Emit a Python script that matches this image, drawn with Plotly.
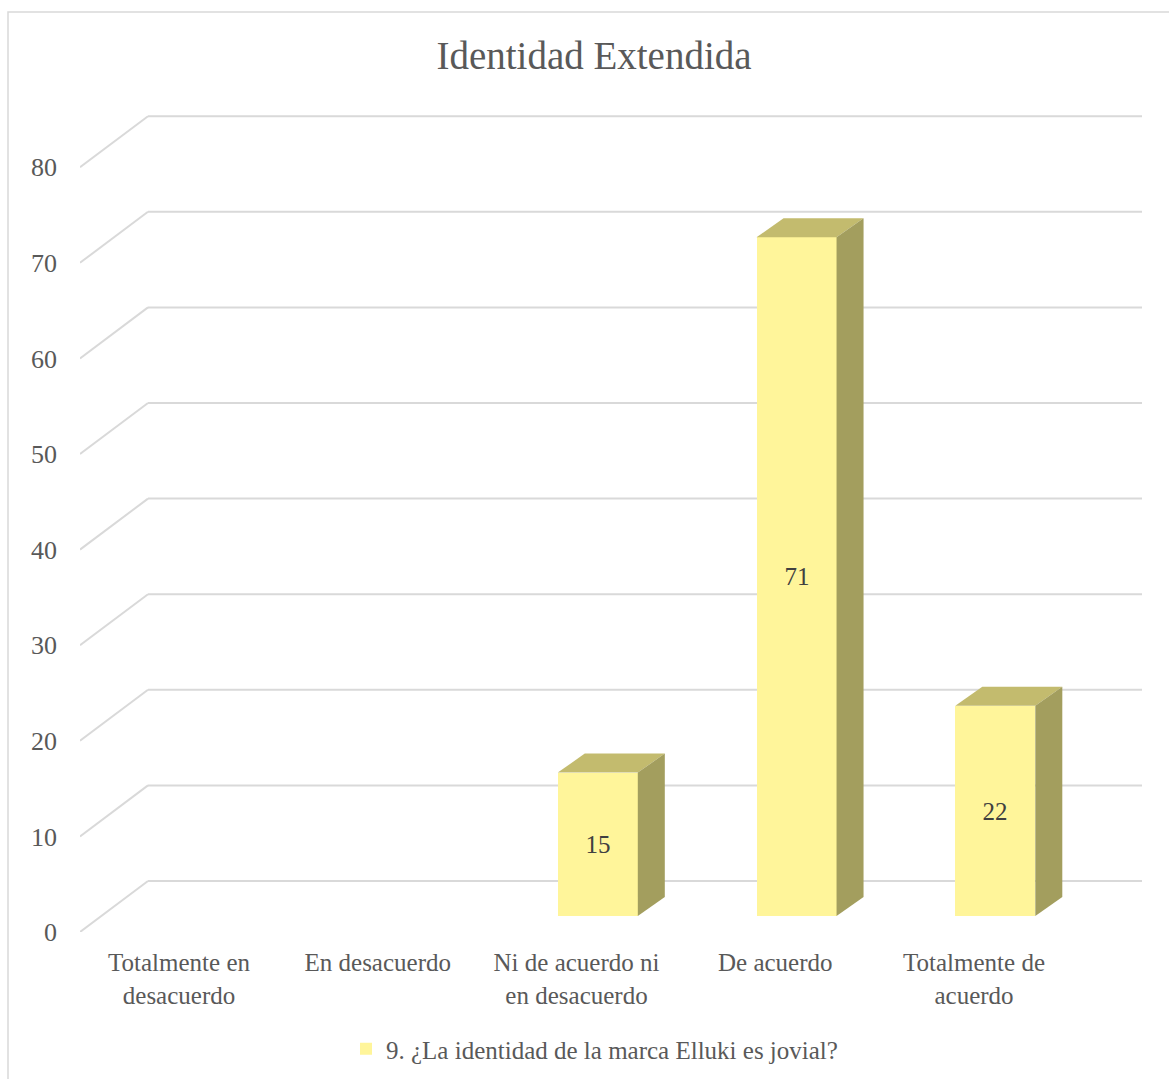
import plotly.graph_objects as go

# Survey answers and counts
categories = [
    "Totalmente en<br>desacuerdo",
    "En desacuerdo",
    "Ni de acuerdo ni<br>en desacuerdo",
    "De acuerdo",
    "Totalmente de<br>acuerdo",
]
counts = [0, 0, 15, 71, 22]
series_name = "9. ¿La identidad de la marca Elluki es jovial?"
y_ticks = [0, 10, 20, 30, 40, 50, 60, 70, 80]

# Page geometry (pixels)
W, H = 1169, 1079
L, R, T, B = 80, 1142, 100, 932
plot_w, plot_h = R - L, B - T
px_per_cat = 198.75
first_cat_px = 179
px_per_unit = 9.56

x_min = (L - first_cat_px) / px_per_cat
x_max = (R - first_cat_px) / px_per_cat
y_max = plot_h / px_per_unit


def ux(px):
    return px / px_per_cat


def uy(px):
    return px / px_per_unit


# pseudo-3D offsets
wall_dx, wall_dy = ux(68), uy(51)        # floor front edge -> back wall
plane_dx, plane_dy = ux(21.3), uy(16)    # floor front edge -> bar front plane
bar_dx, bar_dy = ux(27), uy(19)          # bar depth
bar_w = ux(80)

FRONT = "#FFF59A"
TOP = "#C3BB6E"
SIDE = "#A39E5E"
GRID = "#D9D9D9"
TXT = "#595959"
FONT = "Liberation Serif"

xs = [i + plane_dx for i in range(len(categories))]

fig = go.Figure()
fig.add_trace(go.Bar(
    x=xs,
    y=counts,
    base=[plane_dy] * len(counts),
    width=bar_w,
    name=series_name,
    marker=dict(color=FRONT, line=dict(width=0)),
    text=[str(c) if c else "" for c in counts],
    textposition="inside",
    insidetextanchor="middle",
    textfont=dict(family=FONT, size=25, color="#404040"),
    showlegend=True,
    hoverinfo="skip",
))

shapes = []
# back wall gridlines with slanted side-wall segments
for v in y_ticks:
    xb = x_min + wall_dx
    yb = v + wall_dy
    shapes.append(dict(type="line", xref="x", yref="y", x0=x_min, y0=v, x1=xb, y1=yb,
                       line=dict(color=GRID, width=2), layer="below"))
    shapes.append(dict(type="line", xref="x", yref="y", x0=xb, y0=yb, x1=x_max, y1=yb,
                       line=dict(color=GRID, width=2), layer="below"))

# top and side faces of each bar
for xc, c in zip(xs, counts):
    if c <= 0:
        continue
    x0, x1 = xc - bar_w / 2, xc + bar_w / 2
    y0, y1 = plane_dy, plane_dy + c
    top_path = (f"M{x0},{y1} L{x1},{y1} L{x1 + bar_dx},{y1 + bar_dy} "
                f"L{x0 + bar_dx},{y1 + bar_dy} Z")
    side_path = (f"M{x1},{y0} L{x1},{y1} L{x1 + bar_dx},{y1 + bar_dy} "
                 f"L{x1 + bar_dx},{y0 + bar_dy} Z")
    shapes.append(dict(type="path", xref="x", yref="y", path=top_path,
                       fillcolor=TOP, line=dict(width=0)))
    shapes.append(dict(type="path", xref="x", yref="y", path=side_path,
                       fillcolor=SIDE, line=dict(width=0)))


# chart frame
def pxp(px):
    return (px - L) / plot_w


def pyp(py):
    return (B - py) / plot_h


shapes.append(dict(type="rect", xref="paper", yref="paper",
                   x0=pxp(8), x1=pxp(1185), y0=pyp(1095), y1=pyp(12),
                   line=dict(color=GRID, width=1.5), fillcolor="rgba(0,0,0,0)",
                   layer="below"))

fig.update_layout(
    width=W, height=H,
    margin=dict(l=L, r=W - R, t=T, b=H - B, pad=0, autoexpand=False),
    paper_bgcolor="white",
    plot_bgcolor="white",
    shapes=shapes,
    title=dict(text="Identidad Extendida", x=594 / W, xref="container", xanchor="center",
               y=1 - 55 / H, yref="container", yanchor="middle",
               font=dict(family=FONT, size=39, color=TXT)),
    xaxis=dict(range=[x_min, x_max], tickvals=list(range(len(categories))),
               ticktext=categories, showgrid=False, zeroline=False, showline=False,
               ticks="", ticklabelstandoff=13, automargin=False,
               tickfont=dict(family=FONT, size=25, color=TXT), fixedrange=True),
    yaxis=dict(range=[0, y_max], tickvals=y_ticks, showgrid=False, zeroline=False,
               showline=False, ticks="", ticklabelstandoff=22, automargin=False,
               tickfont=dict(family=FONT, size=26, color=TXT), fixedrange=True),
    legend=dict(orientation="h", x=pxp(346), xanchor="left", y=pyp(1049),
                yanchor="middle", font=dict(family=FONT, size=25, color=TXT),
                bgcolor="rgba(0,0,0,0)"),
    bargap=0,
)

fig.write_html("out.html")
